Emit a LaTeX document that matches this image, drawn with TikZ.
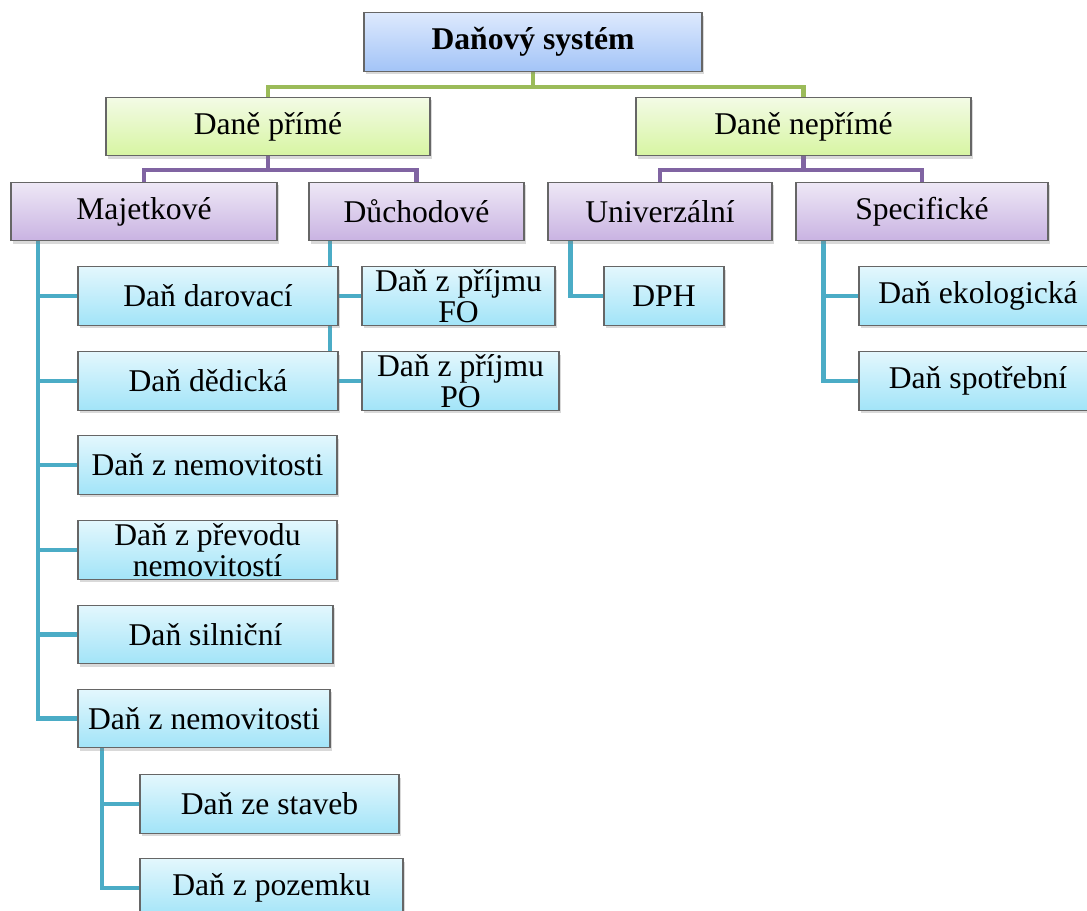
\documentclass[tikz,border=0pt]{standalone}
\usepackage{fontspec}
\setmainfont{Liberation Serif}
\usetikzlibrary{shadows,backgrounds}
\definecolor{rootTop}{HTML}{DDE9FD}
\definecolor{rootBot}{HTML}{A3C4F7}
\definecolor{greenTop}{HTML}{F3FBE6}
\definecolor{greenBot}{HTML}{D7F5A2}
\definecolor{purpleTop}{HTML}{EEE8F6}
\definecolor{purpleBot}{HTML}{C9B3E2}
\definecolor{blueTop}{HTML}{E3F7FD}
\definecolor{blueBot}{HTML}{A2E4F8}
\definecolor{greenLine}{HTML}{9BBB59}
\definecolor{purpleLine}{HTML}{8064A2}
\definecolor{blueLine}{HTML}{4BACC6}

\begin{document}
\begin{tikzpicture}[
        box/.style={draw=black!60, line width=0.6pt, inner xsep=2pt, inner ysep=0pt,
            minimum height=1.17cm, align=center, font=\fontsize{18pt}{18pt}\selectfont,
            drop shadow={shadow xshift=0.04cm, shadow yshift=-0.06cm, opacity=0.3}},
        rootbox/.style={box, top color=rootTop, bottom color=rootBot,
            font=\bfseries\fontsize{18pt}{18pt}\selectfont},
        kindbox/.style={box, top color=greenTop, bottom color=greenBot},
        groupbox/.style={box, top color=purpleTop, bottom color=purpleBot},
        leafbox/.style={box, top color=blueTop, bottom color=blueBot},
        link/.style={line width=2.3pt}
    ]
        \useasboundingbox (0,0) rectangle (21.74,-18.22);
        \node[rootbox, minimum width=6.76cm] (system) at (10.66,-0.84) {Daňový systém};
        \node[kindbox, minimum width=6.48cm] (prime) at (5.36,-2.53) {Daně přímé};
        \node[kindbox, minimum width=6.70cm] (neprime) at (16.07,-2.53) {Daně nepřímé};
        \node[groupbox, minimum width=5.32cm] (majet) at (2.88,-4.23) {Majetkové};
        \node[groupbox, minimum width=4.30cm] (duchod) at (8.33,-4.23) {Důchodové};
        \node[groupbox, minimum width=4.48cm] (univer) at (13.20,-4.23) {Univerzální};
        \node[groupbox, minimum width=5.04cm] (specif) at (18.44,-4.23) {Specifické};
        \foreach \nm/\cx/\cy/\bw/\txt in {dar/4.16/-5.92/5.20/Daň darovací,
            ded/4.16/-7.62/5.20/Daň dědická,
            nemA/4.15/-9.30/5.18/Daň z nemovitosti,
            prev/4.15/-11.00/5.18/Daň z převodu\\nemovitostí,
            siln/4.11/-12.69/5.10/Daň silniční,
            nemB/4.08/-14.37/5.04/Daň z nemovitosti,
            stav/5.39/-16.08/5.18/Daň ze staveb,
            poz/5.43/-17.76/5.26/Daň z pozemku,
            fo/9.17/-5.92/3.86/Daň z příjmu\\FO,
            po/9.21/-7.62/3.94/Daň z příjmu\\PO,
            dph/13.28/-5.92/2.40/DPH,
            eko/19.56/-5.92/4.76/Daň ekologická,
            spot/19.56/-7.62/4.76/Daň spotřební}{
            \node[leafbox, minimum width=\bw cm] (\nm) at (\cx,\cy) {\txt};
        }
        \begin{pgfonlayer}{background}
            \foreach \kid in {prime,neprime}
                \draw[link, greenLine] (system.south) -- ++(0,-0.30) -| (\kid.north);
            \foreach \kid in {majet,duchod}
                \draw[link, purpleLine] (prime.south) -- ++(0,-0.28) -| (\kid.north);
            \foreach \kid in {univer,specif}
                \draw[link, purpleLine] (neprime.south) -- ++(0,-0.28) -| (\kid.north);
            \foreach \kid in {dar,ded,nemA,prev,siln,nemB}
                \draw[link, blueLine] ([xshift=0.56cm]majet.south west) |- (\kid.west);
            \foreach \kid in {fo,po}
                \draw[link, blueLine] ([xshift=0.44cm]duchod.south west) |- (\kid.west);
            \draw[link, blueLine] ([xshift=0.46cm]univer.south west) |- (dph.west);
            \foreach \kid in {eko,spot}
                \draw[link, blueLine] ([xshift=0.56cm]specif.south west) |- (\kid.west);
            \foreach \kid in {stav,poz}
                \draw[link, blueLine] ([xshift=0.50cm]nemB.south west) |- (\kid.west);
        \end{pgfonlayer}
    \end{tikzpicture}
\end{document}
